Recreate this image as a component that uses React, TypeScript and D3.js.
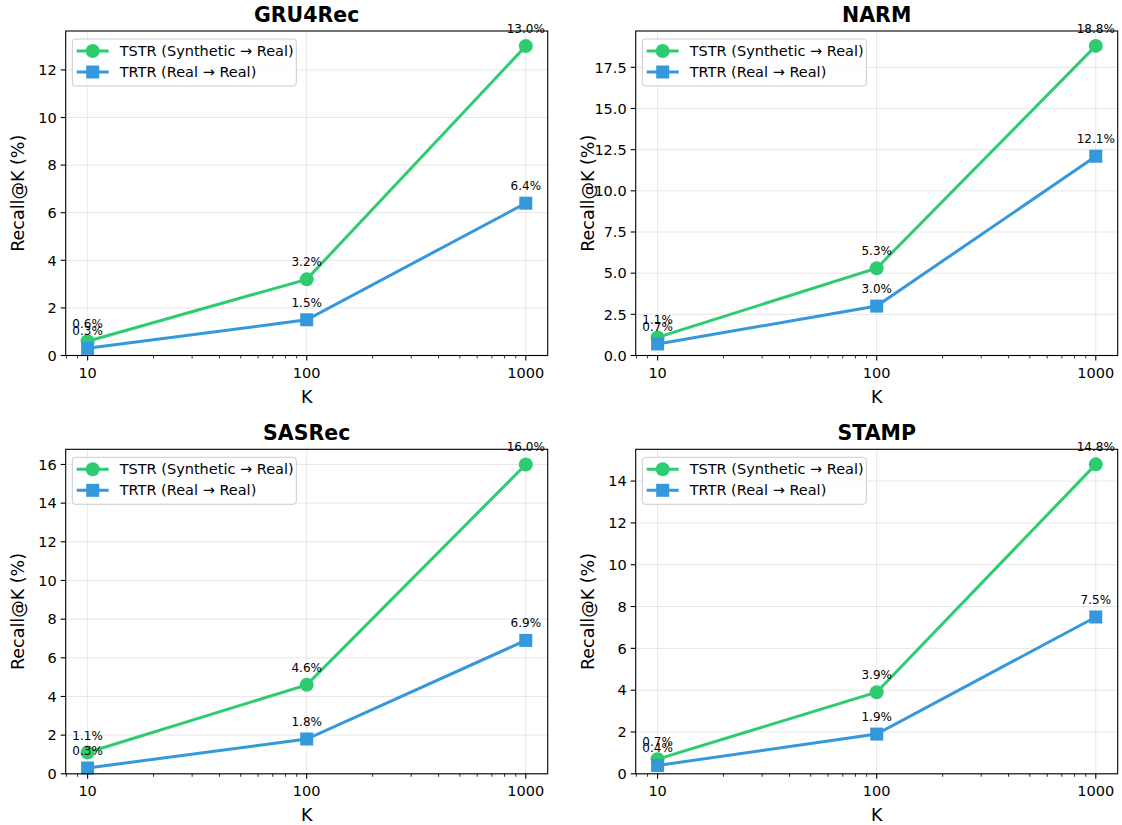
import * as d3 from "d3";

const kValues = [10, 100, 1000];
const modelNames = ["GRU4Rec", "NARM", "SASRec", "STAMP"];
const tstrRecall = [
  [0.6, 3.2, 13.0],
  [1.1, 5.3, 18.8],
  [1.1, 4.6, 16.0],
  [0.7, 3.9, 14.8],
];
const trtrRecall = [
  [0.3, 1.5, 6.4],
  [0.7, 3.0, 12.1],
  [0.3, 1.8, 6.9],
  [0.4, 1.9, 7.5],
];
const yTickValues = [
  [0, 2, 4, 6, 8, 10, 12],
  [0, 2.5, 5, 7.5, 10, 12.5, 15, 17.5],
  [0, 2, 4, 6, 8, 10, 12, 14, 16],
  [0, 2, 4, 6, 8, 10, 12, 14],
];
const seriesNames = ["TSTR (Synthetic \u2192 Real)", "TRTR (Real \u2192 Real)"];

const GREEN = "#2ecc71";
const BLUE = "#3498db";
const FONT = "DejaVu Sans, sans-serif";

const colX = [65.7, 635.7];
const rowY = [31, 449.3];
const W = 482;
const H = 324.5;

function Panel({ idx }: { idx: number }) {
  const left = colX[idx % 2];
  const top = rowY[Math.floor(idx / 2)];
  const tstr = tstrRecall[idx];
  const trtr = trtrRecall[idx];
  const all = [...tstr, ...trtr];

  // matplotlib-style 5% margins (log space on x)
  const lx = d3.extent(kValues.map(Math.log10)) as [number, number];
  const mx = (lx[1] - lx[0]) * 0.05;
  const x = d3
    .scaleLog()
    .domain([10 ** (lx[0] - mx), 10 ** (lx[1] + mx)])
    .range([left, left + W]);
  const yMax = d3.max(all)! + 0.05 * (d3.max(all)! - d3.min(all)!);
  const y = d3.scaleLinear().domain([0, yMax]).range([top + H, top]);

  const ticks = yTickValues[idx];
  const fmt = ticks.some((t) => t % 1 !== 0) ? d3.format(".1f") : d3.format("d");
  const [d0, d1] = x.domain();
  const minor: number[] = [];
  for (let p = 0; p <= 4; p++) {
    for (let m = 2; m <= 9; m++) {
      const v = m * 10 ** p;
      if (v >= d0 && v <= d1) minor.push(v);
    }
  }

  const line = d3
    .line<number>()
    .x((_, i) => x(kValues[i]))
    .y((d) => y(d));

  const bottom = top + H;

  return (
    <g>
      {/* grid */}
      {kValues.map((k) => (
        <line key={"gx" + k} x1={x(k)} x2={x(k)} y1={top} y2={bottom} stroke="#b0b0b0" strokeOpacity={0.3} strokeWidth={1} />
      ))}
      {ticks.map((t) => (
        <line key={"gy" + t} x1={left} x2={left + W} y1={y(t)} y2={y(t)} stroke="#b0b0b0" strokeOpacity={0.3} strokeWidth={1} />
      ))}

      {/* series */}
      <path d={line(tstr)!} fill="none" stroke={GREEN} strokeWidth={3} />
      {tstr.map((v, i) => (
        <circle key={"c" + i} cx={x(kValues[i])} cy={y(v)} r={7} fill={GREEN} />
      ))}
      <path d={line(trtr)!} fill="none" stroke={BLUE} strokeWidth={3} />
      {trtr.map((v, i) => (
        <rect key={"s" + i} x={x(kValues[i]) - 6.5} y={y(v) - 6.5} width={13} height={13} fill={BLUE} />
      ))}

      {/* spines */}
      <rect x={left} y={top} width={W} height={H} fill="none" stroke="#000" strokeWidth={1.1} />

      {/* annotations */}
      {[tstr, trtr].map((s, si) =>
        s.map((v, i) => (
          <text key={"a" + si + i} x={x(kValues[i])} y={y(v) - 13} textAnchor="middle" fontSize={12} fontFamily={FONT} fill="#000">
            {v.toFixed(1)}%
          </text>
        ))
      )}

      {/* x ticks */}
      {kValues.map((k) => (
        <g key={"xt" + k}>
          <line x1={x(k)} x2={x(k)} y1={bottom} y2={bottom + 5} stroke="#000" strokeWidth={1.1} />
          <text x={x(k)} y={bottom + 22.5} textAnchor="middle" fontSize={14.5} fontFamily={FONT} fill="#000">
            {k}
          </text>
        </g>
      ))}
      {minor.map((m) => (
        <line key={"mt" + m} x1={x(m)} x2={x(m)} y1={bottom} y2={bottom + 3} stroke="#000" strokeWidth={0.8} />
      ))}

      {/* y ticks */}
      {ticks.map((t) => (
        <g key={"yt" + t}>
          <line x1={left - 5} x2={left} y1={y(t)} y2={y(t)} stroke="#000" strokeWidth={1.1} />
          <text x={left - 9} y={y(t) + 5.2} textAnchor="end" fontSize={14.5} fontFamily={FONT} fill="#000">
            {fmt(t)}
          </text>
        </g>
      ))}

      {/* labels */}
      <text x={left + W / 2} y={top - 9} textAnchor="middle" fontSize={20.5} fontWeight="bold" fontFamily={FONT} fill="#000">
        {modelNames[idx]}
      </text>
      <text x={left + W / 2} y={bottom + 47} textAnchor="middle" fontSize={17.5} fontFamily={FONT} fill="#000">
        K
      </text>
      <text
        transform={`translate(${left - 41.5},${top + H / 2}) rotate(-90)`}
        textAnchor="middle"
        fontSize={17.5}
        fontFamily={FONT}
        fill="#000"
      >
        Recall@K (%)
      </text>

      {/* legend */}
      <rect x={left + 6.6} y={top + 8} width={224} height={47} rx={3} fill="#fff" fillOpacity={0.8} stroke="#cccccc" strokeWidth={1} />
      {seriesNames.map((name, i) => {
        const ly = top + 20 + i * 21;
        const color = i === 0 ? GREEN : BLUE;
        return (
          <g key={"lg" + i}>
            <line x1={left + 11} x2={left + 43} y1={ly} y2={ly} stroke={color} strokeWidth={3} />
            {i === 0 ? (
              <circle cx={left + 27} cy={ly} r={7} fill={color} />
            ) : (
              <rect x={left + 20.5} y={ly - 6.5} width={13} height={13} fill={color} />
            )}
            <text x={left + 54} y={ly + 5} fontSize={14.5} fontFamily={FONT} fill="#000">
              {name}
            </text>
          </g>
        );
      })}
    </g>
  );
}

export default function App() {
  return (
    <svg
      width={1122}
      height={825}
      style={{ position: "absolute", left: 0, top: 0, background: "#fff" }}
    >
      {modelNames.map((_, i) => (
        <Panel key={i} idx={i} />
      ))}
    </svg>
  );
}
